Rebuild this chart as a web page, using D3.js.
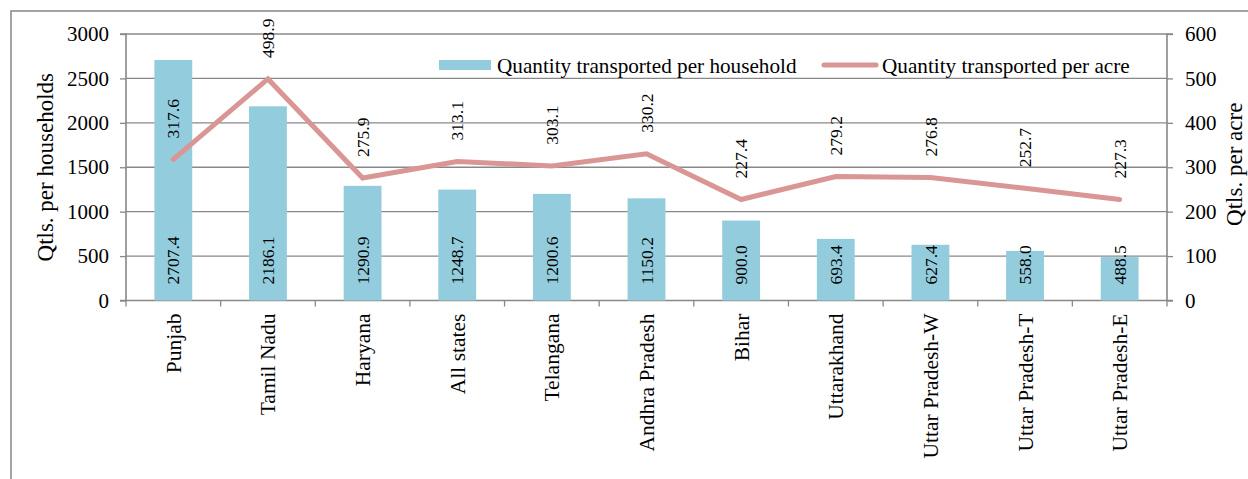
<!DOCTYPE html>
<html>
<head>
<meta charset="utf-8">
<script src="https://cdn.jsdelivr.net/npm/d3@7"></script>
<style>
  body { margin: 0; background: #fff; }
  text { font-family: "Liberation Serif", "Times New Roman", serif; fill: #000; }
</style>
</head>
<body>
<svg id="chart" width="1248" height="479"></svg>
<script>
var states = ['Punjab', 'Tamil Nadu', 'Haryana', 'All states', 'Telangana', 'Andhra Pradesh',
  'Bihar', 'Uttarakhand', 'Uttar Pradesh-W', 'Uttar Pradesh-T', 'Uttar Pradesh-E'];
var perHousehold = [2707.4, 2186.1, 1290.9, 1248.7, 1200.6, 1150.2, 900.0, 693.4, 627.4, 558.0, 488.5];
var perAcre = [317.6, 498.9, 275.9, 313.1, 303.1, 330.2, 227.4, 279.2, 276.8, 252.7, 227.3];
var leftTicks = [0, 500, 1000, 1500, 2000, 2500, 3000];
var rightTicks = [0, 100, 200, 300, 400, 500, 600];

var barColor = '#93cddd', lineColor = '#d99694', gridColor = '#888';
var plotLeft = 126, plotRight = 1167, plotTop = 34, plotBottom = 300.5;

var svg = d3.select('#chart');

// outer frame
svg.append('rect')
  .attr('x', 11).attr('y', 11).attr('width', 1260).attr('height', 500)
  .attr('fill', 'none').attr('stroke', '#8c8c8c').attr('stroke-width', 1.6);

var x = d3.scaleBand().domain(states).range([plotLeft, plotRight]).paddingInner(0.6).paddingOuter(0.3);
var yL = d3.scaleLinear().domain([0, 3000]).range([plotBottom, plotTop]);
var yR = d3.scaleLinear().domain([0, 600]).range([plotBottom, plotTop]);

// gridlines
svg.append('g').selectAll('line')
  .data(leftTicks.slice(1))
  .enter().append('line')
  .attr('x1', plotLeft).attr('x2', plotRight)
  .attr('y1', function(d) { return yL(d); })
  .attr('y2', function(d) { return yL(d); })
  .attr('stroke', gridColor).attr('stroke-width', 1.3);

// left axis
var axL = svg.append('g').attr('transform', 'translate(' + plotLeft + ',0)')
  .call(d3.axisLeft(yL).tickValues(leftTicks).tickFormat(d3.format('d')).tickSize(6).tickPadding(11));
// right axis
var axR = svg.append('g').attr('transform', 'translate(' + plotRight + ',0)')
  .call(d3.axisRight(yR).tickValues(rightTicks).tickFormat(d3.format('d')).tickSize(6).tickPadding(12));
[axL, axR].forEach(function(ax) {
  ax.attr('font-family', null);
  ax.select('.domain').attr('stroke', gridColor).attr('stroke-width', 1.6);
  ax.selectAll('.tick line').attr('stroke', gridColor).attr('stroke-width', 1.3);
  ax.selectAll('.tick text').style('font-family', '"Liberation Serif", serif')
    .style('font-size', '21px').attr('fill', '#000');
});
axL.select('.domain').attr('d', 'M-6,' + plotTop + 'H0V' + plotBottom + 'H-6');
axR.select('.domain').attr('d', 'M6,' + plotTop + 'H0V' + plotBottom + 'H6');

// bottom axis with ticks between categories
svg.append('line')
  .attr('x1', plotLeft).attr('x2', plotRight).attr('y1', plotBottom).attr('y2', plotBottom)
  .attr('stroke', gridColor).attr('stroke-width', 1.6);
var step = x.step();
svg.append('g').selectAll('line')
  .data(d3.range(states.length + 1))
  .enter().append('line')
  .attr('x1', function(i) { return plotLeft + i * step; })
  .attr('x2', function(i) { return plotLeft + i * step; })
  .attr('y1', plotBottom).attr('y2', plotBottom + 6)
  .attr('stroke', gridColor).attr('stroke-width', 1.3);

// bars
svg.append('g').selectAll('rect')
  .data(perHousehold)
  .enter().append('rect')
  .attr('x', function(d, i) { return x(states[i]); })
  .attr('width', x.bandwidth())
  .attr('y', function(d) { return yL(d); })
  .attr('height', function(d) { return plotBottom - yL(d); })
  .attr('fill', barColor);

// bar labels (inside base)
svg.append('g').selectAll('text')
  .data(perHousehold)
  .enter().append('text')
  .attr('transform', function(d, i) {
    return 'translate(' + (x(states[i]) + x.bandwidth() / 2) + ',' + (plotBottom - 16) + ') rotate(-90)';
  })
  .attr('dy', '0.35em')
  .style('font-size', '17.5px')
  .text(function(d) { return d.toFixed(1); });

// line
var cx = function(i) { return x(states[i]) + x.bandwidth() / 2; };
svg.append('path')
  .datum(perAcre)
  .attr('d', d3.line().x(function(d, i) { return cx(i); }).y(function(d) { return yR(d); }))
  .attr('fill', 'none').attr('stroke', lineColor).attr('stroke-width', 5)
  .attr('stroke-linecap', 'round');

// line labels
svg.append('g').selectAll('text')
  .data(perAcre)
  .enter().append('text')
  .attr('transform', function(d, i) {
    return 'translate(' + cx(i) + ',' + (yR(d) - 21) + ') rotate(-90)';
  })
  .attr('dy', '0.35em')
  .style('font-size', '17.5px')
  .text(function(d) { return d.toFixed(1); });

// category labels
svg.append('g').selectAll('text')
  .data(states)
  .enter().append('text')
  .attr('transform', function(d) {
    return 'translate(' + (x(d) + x.bandwidth() / 2) + ',' + (plotBottom + 13) + ') rotate(-90)';
  })
  .attr('dy', '0.35em')
  .attr('text-anchor', 'end')
  .style('font-size', '21.5px')
  .text(function(d) { return d; });

// axis titles
svg.append('text')
  .attr('transform', 'translate(45,' + ((plotTop + plotBottom) / 2) + ') rotate(-90)')
  .attr('dy', '0.35em').attr('text-anchor', 'middle')
  .style('font-size', '23px')
  .text('Qtls. per households');
svg.append('text')
  .attr('transform', 'translate(1234,' + ((plotTop + plotBottom) / 2 - 3) + ') rotate(-90)')
  .attr('dy', '0.35em').attr('text-anchor', 'middle')
  .style('font-size', '23px')
  .text('Qtls. per acre');

// legend
var lg = svg.append('g');
lg.append('rect').attr('x', 439).attr('y', 60).attr('width', 52).attr('height', 10).attr('fill', barColor);
lg.append('text').attr('x', 497).attr('y', 73).style('font-size', '21.2px')
  .text('Quantity transported per household');
lg.append('line').attr('x1', 824).attr('x2', 876).attr('y1', 65).attr('y2', 65)
  .attr('stroke', lineColor).attr('stroke-width', 5).attr('stroke-linecap', 'round');
lg.append('text').attr('x', 882).attr('y', 73).style('font-size', '21.2px')
  .text('Quantity transported per acre');
</script>
</body>
</html>
